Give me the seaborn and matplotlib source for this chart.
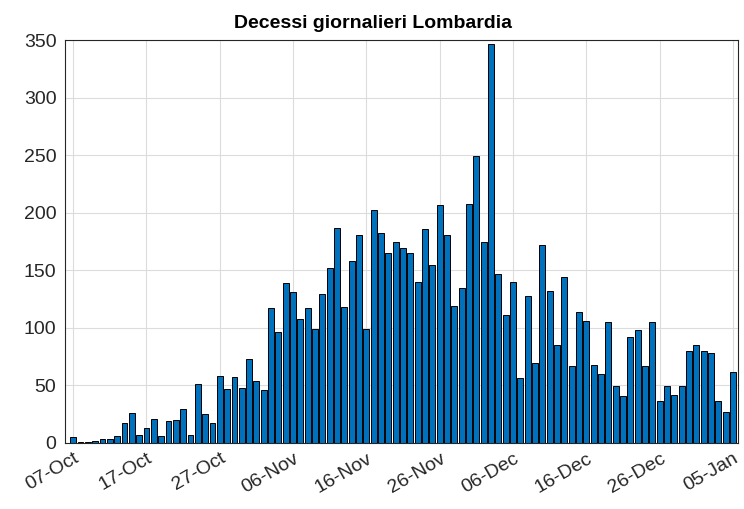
import seaborn as sns
import matplotlib.pyplot as plt
import pandas as pd

# daily deaths, 07-Oct to 05-Jan
start_date = '2020-10-07'
deaths = [5, 1, 1, 2, 3, 3, 6, 17, 26, 7,
          13, 21, 6, 19, 20, 29, 7, 51, 25, 17,
          58, 47, 57, 48, 73, 54, 46, 117, 96, 139,
          131, 108, 117, 99, 129, 152, 187, 118, 158, 181,
          99, 202, 182, 165, 175, 169, 165, 140, 186, 155,
          207, 181, 119, 135, 208, 249, 175, 347, 147, 111,
          140, 56, 128, 69, 172, 132, 85, 144, 67, 114,
          106, 68, 60, 105, 49, 41, 92, 98, 67, 105,
          36, 49, 42, 49, 80, 85, 80, 78, 36, 27,
          62]
tick_labels = ['07-Oct', '17-Oct', '27-Oct', '06-Nov', '16-Nov',
               '26-Nov', '06-Dec', '16-Dec', '26-Dec', '05-Jan']

dates = pd.date_range(start_date, periods=len(deaths), freq='D')
df = pd.DataFrame({'day': range(len(deaths)), 'date': dates, 'deaths': deaths})

sns.set_style('whitegrid')
plt.rcParams['font.family'] = ['Liberation Sans', 'DejaVu Sans']

fig = plt.figure(figsize=(7.44, 5.09), dpi=100)
ax = fig.add_axes([0.087, 0.130, 0.905, 0.791])

sns.barplot(data=df, x='day', y='deaths', color='#0072BD', saturation=1,
            edgecolor='black', linewidth=0.7, width=0.8, ax=ax)

tick_pos = [i for i, d in enumerate(dates) if d.strftime('%d-%b') in tick_labels]
ax.set_xticks(tick_pos)
ax.set_xticklabels([dates[i].strftime('%d-%b') for i in tick_pos],
                   rotation=30, ha='right', rotation_mode='anchor')
ax.set_xlim(-1.15, len(deaths) - 0.3)
ax.set_ylim(0, 350)
ax.set_yticks(range(0, 351, 50))
ax.set_xlabel('')
ax.set_ylabel('')
# title sits a bit left of the axes centre in the original
ax.set_title('Decessi giornalieri Lombardia', fontsize=14, fontweight='bold',
             color='black', pad=9, x=0.458)

ax.grid(True, axis='both', color='#dcdcdc', linewidth=0.8)
ax.set_axisbelow(True)
for s in ax.spines.values():
    s.set_visible(True)
    s.set_color('#262626')
    s.set_linewidth(0.8)
ax.tick_params(axis='both', direction='in', length=4, width=0.8, colors='#262626',
               labelsize=14, labelcolor='#262626')
ax.tick_params(axis='x', pad=5)
ax.tick_params(axis='y', pad=6)

plt.savefig('out.png', dpi=100)
